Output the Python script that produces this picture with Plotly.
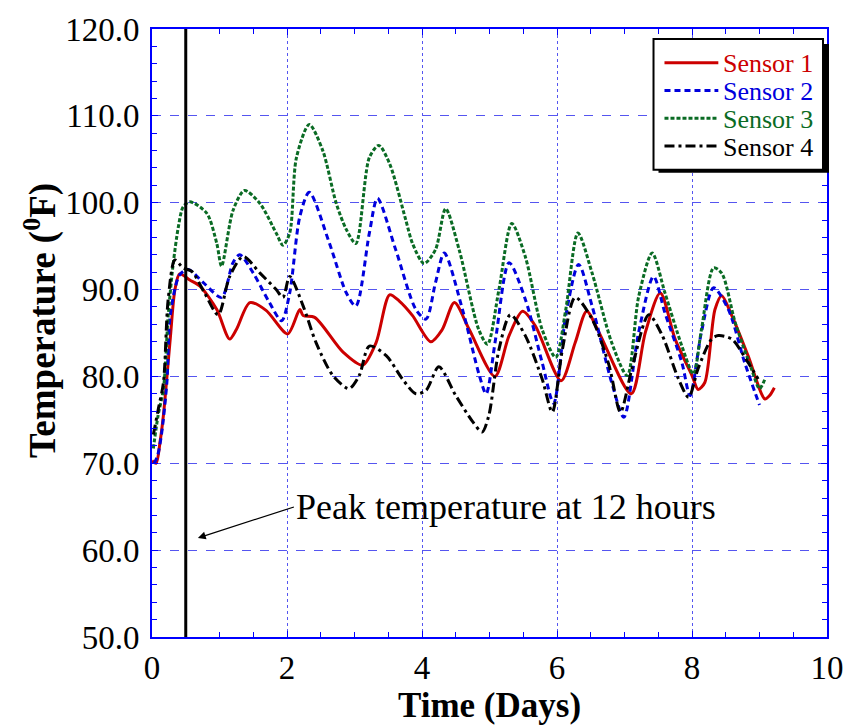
import plotly.graph_objects as go

# ---- data ----
s1_x = [0.00, 0.06, 0.12, 0.17, 0.27, 0.34, 0.41, 0.56, 0.71, 0.96, 1.15, 1.25, 1.45, 1.69, 2.01, 2.19, 2.24, 2.41, 2.83, 3.12, 3.32, 3.52, 3.66, 3.86, 4.13, 4.30, 4.48, 4.70, 5.08, 5.29, 5.49, 5.68, 6.06, 6.27, 6.44, 6.62, 7.10, 7.31, 7.53, 7.75, 8.00, 8.09, 8.19, 8.34, 8.44, 8.59, 8.83, 9.08, 9.15, 9.22]
s1_y = [70.3, 70.0, 72.5, 75.6, 84.3, 90.0, 91.8, 91.1, 90.4, 87.7, 84.3, 85.4, 88.5, 87.6, 84.9, 87.7, 87.0, 86.8, 82.8, 81.3, 83.9, 89.4, 88.7, 87.0, 84.0, 85.4, 88.5, 85.4, 80.0, 84.7, 87.5, 85.8, 79.5, 83.9, 87.5, 85.1, 78.0, 85.1, 89.6, 84.3, 80.1, 78.5, 79.3, 87.7, 89.3, 87.0, 82.4, 77.4, 77.8, 78.7]

s2_x = [0.03, 0.08, 0.14, 0.22, 0.27, 0.41, 0.54, 0.76, 1.03, 1.20, 1.30, 1.50, 1.74, 1.92, 2.04, 2.19, 2.33, 2.63, 2.88, 3.02, 3.22, 3.34, 3.61, 3.91, 4.06, 4.20, 4.33, 4.60, 4.85, 4.95, 5.09, 5.29, 5.53, 5.78, 5.95, 6.13, 6.32, 6.52, 6.81, 6.99, 7.21, 7.43, 7.60, 7.85, 7.97, 8.14, 8.32, 8.54, 8.78, 9.00]
s2_y = [70.0, 70.8, 73.3, 79.3, 87.0, 91.7, 92.3, 90.8, 89.1, 93.1, 94.0, 91.9, 88.5, 86.4, 89.6, 98.4, 101.2, 95.3, 89.6, 88.1, 96.5, 100.5, 94.6, 87.7, 86.6, 90.8, 94.2, 87.7, 80.1, 78.0, 84.3, 93.1, 88.9, 81.6, 76.9, 87.0, 92.9, 88.1, 79.3, 75.3, 85.1, 91.5, 87.3, 81.6, 77.8, 85.1, 90.2, 87.7, 81.6, 76.7]

s3_x = [0.02, 0.09, 0.17, 0.24, 0.31, 0.39, 0.46, 0.56, 0.81, 0.96, 1.03, 1.20, 1.37, 1.60, 1.84, 1.94, 2.04, 2.14, 2.33, 2.53, 2.73, 2.88, 3.02, 3.22, 3.36, 3.52, 3.76, 3.86, 4.03, 4.20, 4.35, 4.55, 4.84, 4.97, 5.14, 5.33, 5.53, 5.78, 5.98, 6.13, 6.31, 6.52, 6.81, 7.04, 7.21, 7.41, 7.60, 7.85, 8.02, 8.14, 8.32, 8.44, 8.64, 8.88, 9.00, 9.08]
s3_y = [71.7, 75.5, 78.6, 87.0, 92.7, 97.2, 99.5, 100.1, 98.8, 95.3, 92.7, 99.1, 101.4, 99.9, 96.5, 95.1, 96.5, 105.2, 109.0, 106.0, 99.9, 96.9, 95.3, 105.2, 106.6, 104.5, 98.0, 95.3, 93.0, 94.6, 99.3, 94.6, 85.4, 83.7, 90.0, 97.6, 93.8, 85.4, 82.2, 87.7, 96.5, 91.9, 83.9, 80.1, 89.2, 94.2, 89.6, 83.5, 80.3, 85.4, 92.5, 91.9, 86.2, 80.9, 78.6, 79.7]

s4_x = [0.02, 0.10, 0.17, 0.24, 0.34, 0.46, 0.59, 0.78, 0.98, 1.15, 1.35, 1.60, 1.84, 1.94, 2.04, 2.24, 2.43, 2.68, 2.92, 3.07, 3.22, 3.47, 3.71, 3.91, 4.06, 4.25, 4.50, 4.75, 4.89, 4.99, 5.14, 5.31, 5.53, 5.78, 5.93, 6.08, 6.27, 6.52, 6.77, 6.94, 7.11, 7.36, 7.56, 7.80, 7.95, 8.09, 8.29, 8.39, 8.59, 8.83, 8.98]
s4_y = [73.3, 76.5, 79.3, 88.9, 93.4, 92.5, 92.1, 89.6, 87.1, 91.5, 93.8, 91.9, 90.0, 89.1, 91.5, 88.1, 83.9, 80.1, 78.6, 80.1, 83.5, 82.4, 79.7, 78.0, 78.4, 81.1, 77.8, 74.8, 73.6, 75.5, 83.1, 87.1, 84.7, 79.7, 75.9, 83.1, 89.1, 86.6, 81.3, 75.9, 80.9, 87.1, 84.7, 79.7, 77.6, 80.9, 84.3, 84.7, 84.3, 81.6, 79.7]

series_names = ["Sensor 1", "Sensor 2", "Sensor 3", "Sensor 4"]
series_colors = ["#cc0000", "#0000dd", "#0a6b24", "#000000"]
series_dash = ["solid", "6px,4px", "4px,2px", "10px,4px,3px,4px"]

peak_day = 0.5
annotation_text = "Peak temperature at 12 hours"
x_title = "Time (Days)"
y_title = "Temperature (<sup>0</sup>F)"

FONT = "Liberation Serif, Times New Roman, serif"
AXIS_BLUE = "#0000ff"
GRID_BLUE = "#5555f0"

# plot area geometry (pixels) used to place paper-referenced decorations
PL, PT, PW, PH = 152, 24, 677, 613


def px(xp):
    return (xp - PL) / PW


def py(yp):
    return 1 - (yp - PT) / PH


fig = go.Figure()
for xs, ys, name, col, dash in zip([s1_x, s2_x, s3_x, s4_x], [s1_y, s2_y, s3_y, s4_y],
                                   series_names, series_colors, series_dash):
    fig.add_trace(go.Scatter(
        x=xs, y=ys, mode="lines", name=name, showlegend=False,
        line=dict(color=col, width=3, dash=dash, shape="spline", smoothing=0.8),
    ))

# vertical line at 12 hours
fig.add_shape(type="line", xref="x", yref="y", x0=peak_day, x1=peak_day, y0=50, y1=120,
              line=dict(color="black", width=3), layer="above")

# ---- legend drawn as a boxed key with drop shadow ----
fig.add_shape(type="rect", xref="paper", yref="paper",
              x0=px(660), x1=px(831), y0=py(169), y1=py(39),
              fillcolor="black", line=dict(width=0), layer="above")
fig.add_shape(type="rect", xref="paper", yref="paper",
              x0=px(655), x1=px(825), y0=py(166), y1=py(34),
              fillcolor="white", line=dict(color="black", width=2), layer="above")
row_y = [58, 86, 114, 142]
for yy, name, col, dash in zip(row_y, series_names, series_colors, series_dash):
    fig.add_shape(type="line", xref="paper", yref="paper",
                  x0=px(666), x1=px(720), y0=py(yy), y1=py(yy),
                  line=dict(color=col, width=3, dash=dash), layer="above")
    fig.add_annotation(xref="paper", yref="paper", x=px(723), y=py(yy + 1),
                       xanchor="left", yanchor="middle", text=name, showarrow=False,
                       font=dict(family=FONT, size=26, color=col))

# annotation text with arrow pointing at the 12-hour line
fig.add_annotation(x=0.68, y=61.4, xref="x", yref="y", text=annotation_text,
                   showarrow=True, ax=96, ay=-31, xanchor="left", yanchor="middle",
                   arrowhead=2, arrowsize=1.3, arrowwidth=1.2, arrowcolor="black",
                   font=dict(family=FONT, size=36, color="black"))

# y-axis title
fig.add_annotation(xref="paper", yref="paper", x=px(40), y=py(318),
                   xanchor="center", yanchor="middle",
                   text=f"<b>{y_title}</b>", textangle=-90, showarrow=False,
                   font=dict(family=FONT, size=37, color="black"))

fig.update_layout(
    width=856, height=726,
    margin=dict(l=PL, r=856 - PL - PW, t=PT, b=726 - PT - PH),
    paper_bgcolor="white", plot_bgcolor="white",
    font=dict(family=FONT, color="black"),
    showlegend=False,
    xaxis=dict(range=[0, 10], dtick=2, tickformat="d",
               showline=True, linecolor=AXIS_BLUE, linewidth=2, mirror="allticks",
               ticks="inside", ticklen=6, tickcolor=AXIS_BLUE, tickwidth=1,
               showgrid=True, gridcolor=GRID_BLUE, griddash="dot", gridwidth=1,
               zeroline=False,
               minor=dict(dtick=0.5, ticks="inside", ticklen=5, tickcolor=AXIS_BLUE, showgrid=False),
               tickfont=dict(family=FONT, size=33, color="black"),
               title=dict(text=f"<b>{x_title}</b>", font=dict(family=FONT, size=35, color="black"),
                          standoff=2)),
    yaxis=dict(range=[50, 120], dtick=10, tickformat=".1f",
               showline=True, linecolor=AXIS_BLUE, linewidth=2, mirror="allticks",
               ticks="inside", ticklen=6, tickcolor=AXIS_BLUE, tickwidth=1,
               showgrid=True, gridcolor=GRID_BLUE, griddash="dash", gridwidth=1,
               zeroline=False,
               minor=dict(dtick=2, ticks="inside", ticklen=5, tickcolor=AXIS_BLUE, showgrid=False),
               tickfont=dict(family=FONT, size=33, color="black"),
               ticklabelstandoff=4),
)

fig.write_html("out.html")
